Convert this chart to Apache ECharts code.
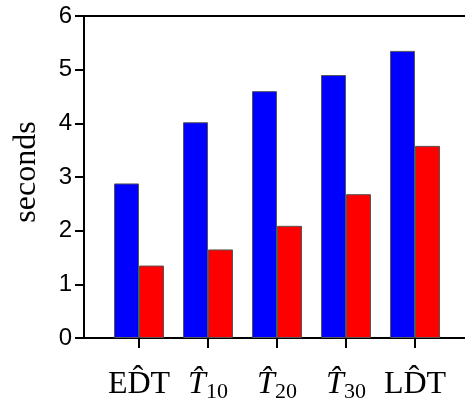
<!DOCTYPE html>
<html>
<head>
<meta charset="utf-8">
<script src="https://cdn.jsdelivr.net/npm/echarts@6/dist/echarts.min.js"></script>
<style>html,body{margin:0;padding:0;background:#fff}#c{width:465px;height:408px}</style>
</head>
<body>
<div id="c"></div>
<script>
// Data
var categories = ['EDT', 'T10', 'T20', 'T30', 'LDT'];
var tickLabels = ['{n|E}{n|D\u0302}{n|T}', '{i|T\u0302}{s|10}', '{i|T\u0302}{s|20}', '{i|T\u0302}{s|30}', '{n|L}{n|D\u0302}{n|T}'];
var blueValues = [2.88, 4.02, 4.60, 4.90, 5.35];
var redValues = [1.35, 1.65, 2.09, 2.68, 3.58];
var yTicks = [0, 1, 2, 3, 4, 5, 6];

var chart = echarts.init(document.getElementById('c'), null, {renderer: 'canvas'});
var serif = 'Liberation Serif';
var sans = 'Liberation Sans';
var option = {
  animation: false,
  backgroundColor: '#fff',
  grid: [
    {left: 84, top: 16, right: -60, bottom: 70, containLabel: false, outerBoundsMode: 'none'},
    {left: 104.5, top: 16, width: 345, bottom: 70, containLabel: false, outerBoundsMode: 'none'}
  ],
  xAxis: [
    {gridIndex: 0, type: 'value', min: 0, max: 1, position: 'bottom',
     axisLine: {show: true, onZero: false, lineStyle: {color: '#000', width: 2}},
     axisTick: {show: false}, axisLabel: {show: false}, splitLine: {show: false}},
    {gridIndex: 0, type: 'value', min: 0, max: 1, position: 'top',
     axisLine: {show: true, onZero: false, lineStyle: {color: '#000', width: 2}},
     axisTick: {show: false}, axisLabel: {show: false}, splitLine: {show: false}},
    {gridIndex: 1, type: 'category', data: categories, position: 'bottom',
     axisLine: {show: false},
     axisTick: {show: true, alignWithLabel: true, length: 10, lineStyle: {color: '#000', width: 2}},
     axisLabel: {
       interval: 0,
       hideOverlap: false,
       margin: 29,
       formatter: function (v, i) { return tickLabels[i]; },
       rich: {
         n: {fontFamily: serif, fontSize: 32, color: '#000', lineHeight: 36, verticalAlign: 'middle'},
         i: {fontFamily: serif, fontSize: 32, fontStyle: 'italic', color: '#000', lineHeight: 36, verticalAlign: 'middle'},
         s: {fontFamily: serif, fontSize: 22, color: '#000', lineHeight: 22, verticalAlign: 'bottom'}
       }
     },
     splitLine: {show: false}}
  ],
  yAxis: [
    {gridIndex: 0, type: 'value', min: 0, max: 6, interval: 1,
     name: 'seconds', nameLocation: 'middle', nameGap: 41,
     nameTextStyle: {fontFamily: serif, fontSize: 32, color: '#000', padding: [0, 0, 0, 10]},
     axisLine: {show: true, lineStyle: {color: '#000', width: 2}},
     axisTick: {show: true, length: 9, lineStyle: {color: '#000', width: 2}},
     axisLabel: {fontFamily: sans, fontSize: 24, color: '#000', margin: 12,
       formatter: function (v) { return yTicks.indexOf(v) >= 0 ? String(v) : ''; }},
     splitLine: {show: false}},
    {gridIndex: 1, type: 'value', min: 0, max: 6, interval: 1, show: false}
  ],
  series: [
    {type: 'bar', xAxisIndex: 2, yAxisIndex: 1, data: blueValues, barWidth: 25, barGap: '0%',
     itemStyle: {color: '#0000ff', borderColor: '#555', borderWidth: 1}},
    {type: 'bar', xAxisIndex: 2, yAxisIndex: 1, data: redValues, barWidth: 25, barGap: '0%',
     itemStyle: {color: '#ff0000', borderColor: '#555', borderWidth: 1}}
  ]
};
chart.setOption(option);
</script>
</body>
</html>
